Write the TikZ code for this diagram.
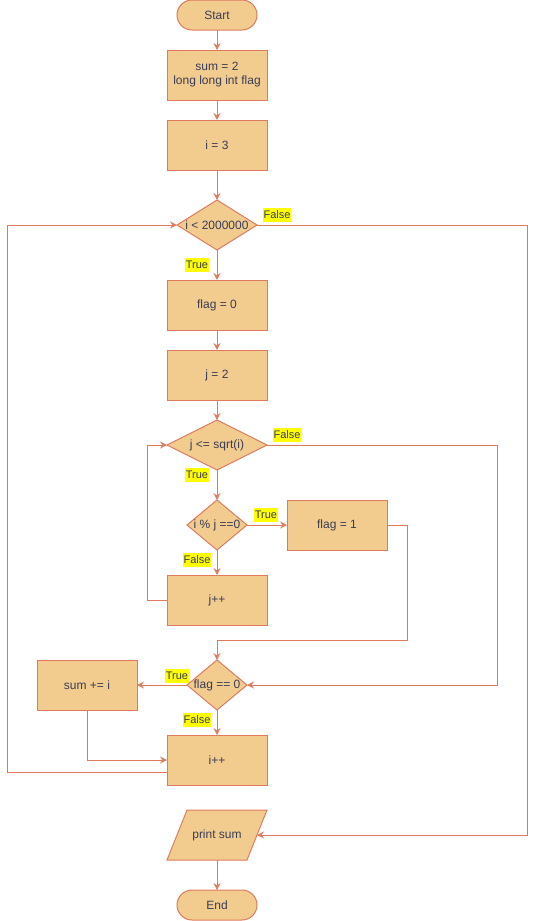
\documentclass[tikz,border=0pt]{standalone}
\usepackage{fontspec}
\setmainfont{Liberation Sans}
\usetikzlibrary{shapes.geometric,arrows.meta,calc,backgrounds}
\definecolor{boxfill}{HTML}{F2CC8F}
\definecolor{boxline}{HTML}{E07A5F}
\definecolor{ink}{HTML}{393C56}
\definecolor{tag}{HTML}{FFFF00}
\begin{document}
\begin{tikzpicture}[x=1pt,y=-1pt,
  base/.style={draw=boxline, fill=boxfill, line width=1pt, text=ink,
    font=\fontsize{12}{14}\selectfont, inner sep=0pt, outer sep=0pt},
  proc/.style={base, rectangle, minimum width=100pt, minimum height=50pt, align=center},
  term/.style={base, rectangle, rounded corners=15pt, minimum width=80pt, minimum height=30pt},
  dec/.style={base, diamond, minimum width=#1, minimum height=50pt},
  iotext/.style={rectangle, text=ink, font=\fontsize{12}{14}\selectfont,
    inner sep=0pt, outer sep=0pt, minimum width=80pt, minimum height=50pt},
  flow/.style={draw=boxline, line width=1pt,
    -{Stealth[length=7pt,width=7pt,inset=2.5pt]}},
  lbl/.style={fill=tag, text=ink, font=\fontsize{11}{13}\selectfont,
    text height=9pt, text depth=3pt, inner xsep=0.8pt, inner ysep=1pt}
]
\useasboundingbox (0,0) rectangle (536,921);

% ---- nodes ----
\node[term] (start) at (217,15) {Start};
\node[proc] (init) at (217,75) {sum = 2\\long long int flag};
\node[proc] (iset) at (217,145) {i = 3};
\node[dec=80pt] (outer) at (217,225) {\makebox[0pt]{i < 2000000}};
\node[proc] (flag0) at (217,305) {flag = 0};
\node[proc] (jset) at (217,375) {j = 2};
\node[dec=100pt] (inner) at (217,445) {\makebox[0pt]{j <= sqrt(i)}};
\node[dec=60pt] (divides) at (217,525) {\makebox[0pt]{i \% j ==0}};
\node[proc] (flag1) at (337,525) {flag = 1};
\node[proc] (jinc) at (217,600) {j++};
\node[dec=60pt] (check) at (217,685) {\makebox[0pt]{flag == 0}};
\node[proc] (addsum) at (87,685) {sum += i};
\node[proc] (iinc) at (217,760) {i++};
\node[iotext] (print) at (217,835) {print sum};
\node[term] (stop) at (217,905) {End};

% parallelogram outline behind the output text
\begin{scope}[on background layer]
  \filldraw[draw=boxline, fill=boxfill, line width=1pt, line join=miter]
    ($(print.north west)+(10,0)$) -- ($(print.north east)+(10,0)$)
    -- ($(print.south east)+(-10,0)$) -- ($(print.south west)+(-10,0)$) -- cycle;
\end{scope}

% ---- bend points ----
\coordinate (innerback) at (147,445);
\coordinate (flagdrop) at (407,640);
\coordinate (innerexit) at (497,685);
\coordinate (outerback) at (7,225);
\coordinate (outerexit) at (527,835);

% ---- connectors ----
\draw[flow] (start) -- (init);
\draw[flow] (init) -- (iset);
\draw[flow] (iset) -- (outer);
\draw[flow] (outer) -- (flag0);
\draw[flow] (flag0) -- (jset);
\draw[flow] (jset) -- (inner);
\draw[flow] (inner) -- (divides);
\draw[flow] (divides) -- (flag1);
\draw[flow] (divides) -- (jinc);
\draw[flow] (jinc.west) -| (innerback) -- (inner.west);
\draw[flow] (flag1.east) -| (flagdrop) -| (check.north);
\draw[flow] (inner.east) -| (innerexit) -- (check.east);
\draw[flow] (check.west) -- (addsum.east);
\draw[flow] (check.south) -- (iinc.north);
\draw[flow] (addsum.south) |- (iinc.west);
\draw[flow] ($(iinc.west)+(0,12.5)$) -| (outerback) -- (outer.west);
\draw[flow] (outer.east) -| (outerexit) -- (print.east);
\draw[flow] (print.south) -- (stop.north);

% ---- branch labels ----
\node[lbl] (t1) at (277,215) {False};
\node[lbl] (t2) at (197,265) {True};
\node[lbl] (t3) at (287,435) {False};
\node[lbl] (t4) at (197,475) {True};
\node[lbl] (t5) at (266,515) {True};
\node[lbl] (t6) at (197,560) {False};
\node[lbl] (t7) at (177,676) {True};
\node[lbl] (t8) at (197,720) {False};
\end{tikzpicture}
\end{document}
